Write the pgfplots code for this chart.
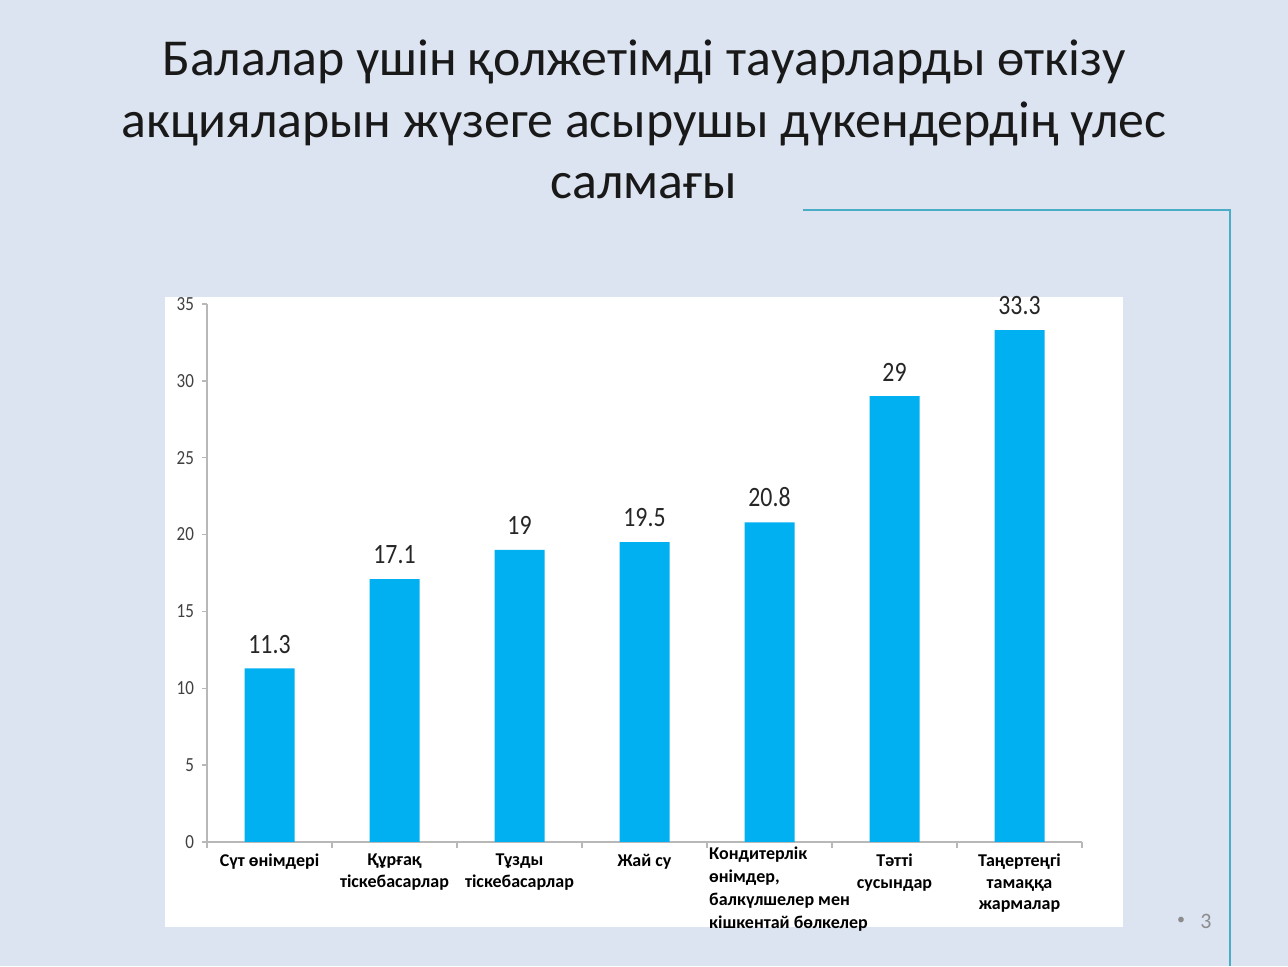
\documentclass[border=0pt]{standalone}
\usepackage{fontspec}
\setmainfont{Carlito}
\newfontfamily\numfont[FakeStretch=0.85]{Carlito}
\usepackage{pgfplots}
\pgfplotsset{compat=1.18}
\definecolor{slidebg}{HTML}{DCE4F1}
\definecolor{barblue}{HTML}{00B0F0}
\definecolor{decor}{HTML}{4BACC6}

\begin{document}
\begin{tikzpicture}
% slide background and white chart area
\fill[slidebg] (0,0) rectangle (644pt,483pt);
\fill[white] (82.5pt,19.5pt) rectangle (561.5pt,334.5pt);
\draw[decor, line width=1pt] (401.5pt,378pt) -- (615pt,378pt) -- (615pt,0pt);

% title
\begin{scope}[every node/.style={anchor=base, text=black!90, font=\fontsize{25.9}{31}\selectfont}]
\node at (322pt,445pt) {Балалар үшін қолжетімді тауарларды өткізу};
\node at (322pt,414pt) {акцияларын жүзеге асырушы дүкендердің үлес};
\node at (322pt,383.5pt) {салмағы};
\end{scope}

% page number
\node[text=black!45, font=\fontsize{8}{9}\selectfont] at (590.5pt,22.5pt) {•};
\node[text=black!45, font=\fontsize{11}{12}\selectfont] at (603pt,22.5pt) {3};

\begin{axis}[
    at={(103.5pt,62pt)}, anchor=south west,
    scale only axis, width=437.5pt, height=269pt,
    xmin=-0.5, xmax=6.5, ymin=0, ymax=35,
    ybar, bar width=25pt,
    axis x line*=bottom, axis y line*=left,
    axis line style={draw=black!28, line width=0.9pt, -},
    tick align=outside,
    tick style={draw=black!28, line width=0.7pt},
    major tick length=2.5pt,
    minor tick length=3pt,
    major x tick style={draw=none},
    xtick={0,...,6},
    minor xtick={-0.5,0.5,...,6.5},
    ytick={0,5,...,35},
    /pgf/number format/assume math mode=true,
    yticklabel style={font=\numfont\fontsize{10}{11}\selectfont, text=black!75, xshift=-0.5pt},
    xticklabel style={font=\bfseries\fontsize{9}{10.7}\selectfont, align=center, anchor=north, text=black, yshift=0pt},
    xticklabels={
        {Сүт өнімдері},
        {Құрғақ\\тіскебасарлар},
        {Тұзды\\тіскебасарлар},
        {Жай су},
        {\hspace*{19pt}\raisebox{-2.5pt}[0pt][0pt]{\renewcommand{\arraystretch}{1.08}\begin{tabular}[t]{@{}l@{}}Кондитерлік\\өнімдер,\\балкүлшелер мен\\кішкентай бөлкелер\end{tabular}}},
        {Тәтті\\сусындар},
        {Таңертеңгі\\тамаққа\\жармалар}
    },
    nodes near coords,
    every node near coord/.append style={font=\numfont\fontsize{14}{15}\selectfont, text=black!85, yshift=4pt},
]
\addplot[fill=barblue, draw=none] coordinates {
    (0,11.3) (1,17.1) (2,19) (3,19.5) (4,20.8) (5,29) (6,33.3)
};
\end{axis}
\end{tikzpicture}
\end{document}
